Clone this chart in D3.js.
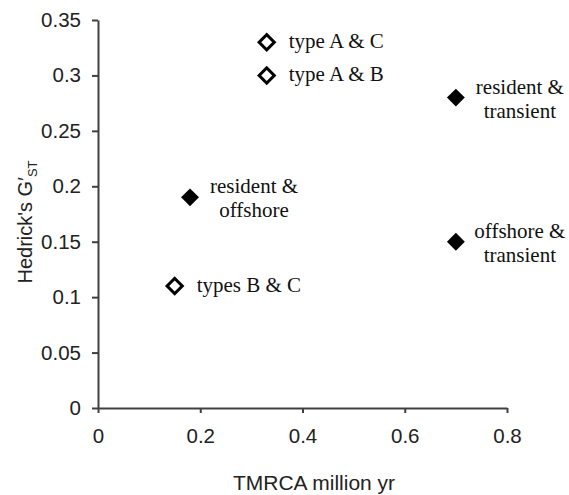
<!DOCTYPE html>
<meta charset="utf-8">
<style>
body { margin: 0; background: #fff; }
.axis path, .axis line { stroke: #404040; stroke-width: 2px; }
.axis text { font-family: Arial, "Liberation Sans", sans-serif; font-size: 20.5px; fill: #222; }
.pt-label { font-family: "Times New Roman", "Liberation Serif", serif; font-size: 21px; fill: #111; }
</style>
<body>
<script src="https://d3js.org/d3.v7.min.js"></script>
<script>

var width = 569, height = 495;
var margin = {top: 20, right: 62, bottom: 87, left: 98};

// data
var pairs = ["type A & C", "type A & B", "resident & transient", "resident & offshore", "offshore & transient", "types B & C"];
var tmrca = [0.33, 0.33, 0.70, 0.18, 0.70, 0.15];
var gst = [0.33, 0.30, 0.28, 0.19, 0.15, 0.11];
var filled = [false, false, true, true, true, false];
var labelLines = [["type A & C"], ["type A & B"], ["resident &", "transient"], ["resident &", "offshore"], ["offshore &", "transient"], ["types B & C"]];

var xTicks = [0, 0.2, 0.4, 0.6, 0.8];
var yTicks = [0, 0.05, 0.1, 0.15, 0.2, 0.25, 0.3, 0.35];

var data = pairs.map(function(p, i) {
  return {name: p, x: tmrca[i], y: gst[i], filled: filled[i], lines: labelLines[i]};
});

var svg = d3.select("body").append("svg")
    .attr("width", width)
    .attr("height", height);

var x = d3.scaleLinear().domain([0, 0.8]).range([margin.left, width - margin.right]);
var y = d3.scaleLinear().domain([0, 0.35]).range([height - margin.bottom, margin.top]);

function fmt(d) { return d === 0 ? "0" : String(+d.toFixed(2)); }

svg.append("g")
    .attr("class", "axis")
    .attr("transform", "translate(0," + y(0) + ")")
    .call(d3.axisBottom(x).tickValues(xTicks).tickFormat(fmt).tickSize(5).tickPadding(15).tickSizeOuter(0));

svg.append("g")
    .attr("class", "axis")
    .attr("transform", "translate(" + x(0) + ",0)")
    .call(d3.axisLeft(y).tickValues(yTicks).tickFormat(fmt).tickSize(6).tickPadding(11).tickSizeOuter(0));

// axis titles
svg.append("text")
    .attr("x", 314)
    .attr("y", 490)
    .attr("text-anchor", "middle")
    .style("font-family", "Arial, 'Liberation Sans', sans-serif")
    .style("font-size", "21px")
    .style("fill", "#222")
    .text("TMRCA million yr");

var yt = svg.append("text")
    .attr("transform", "translate(32,222) rotate(-90)")
    .attr("text-anchor", "middle")
    .style("font-family", "Arial, 'Liberation Sans', sans-serif")
    .style("font-size", "20px")
    .style("fill", "#222");
yt.append("tspan").text("Hedrick's G\u2032");
yt.append("tspan").attr("dy", 5).style("font-size", "13px").text("ST");

// points
var square = d3.symbol().type(d3.symbolSquare);

var pts = svg.selectAll(".pt")
  .data(data)
  .enter().append("g")
    .attr("class", "pt")
    .attr("transform", function(d) { return "translate(" + x(d.x) + "," + y(d.y) + ")"; });

pts.append("path")
    .attr("d", function(d) { return square.size(d.filled ? 160 : 115)(); })
    .attr("transform", "rotate(45)")
    .style("fill", function(d) { return d.filled ? "#000" : "#fff"; })
    .style("stroke", "#000")
    .style("stroke-width", function(d) { return d.filled ? 0 : 3; });

var lab = pts.append("text")
    .attr("class", "pt-label")
    .attr("text-anchor", function(d) { return d.lines.length > 1 ? "middle" : "start"; });

lab.selectAll("tspan")
  .data(function(d) {
    return d.lines.map(function(t, i) { return {t: t, i: i, n: d.lines.length}; });
  })
  .enter().append("tspan")
    .attr("x", function(d) { return d.n > 1 ? 64 : 22; })
    .attr("y", function(d) { return d.n > 1 ? -4 + d.i * 24 : 6; })
    .text(function(d) { return d.t; });

</script>
</body>
